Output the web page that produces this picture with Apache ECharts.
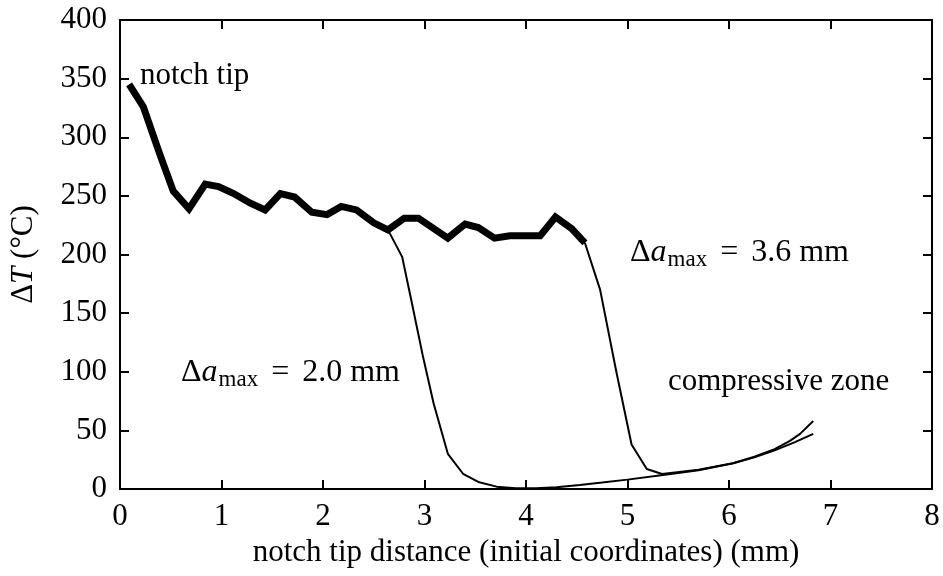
<!DOCTYPE html>
<html>
<head>
<meta charset="utf-8">
<script src="https://cdn.jsdelivr.net/npm/echarts@6/dist/echarts.min.js"></script>
<style>html,body{margin:0;padding:0;background:#fff}#c{width:943px;height:576px}</style>
</head>
<body>
<div id="c"></div>
<script>
// Common path (thick line)
const mainX = [0.09, 0.23, 0.39, 0.525, 0.68, 0.84, 0.97, 1.12, 1.28, 1.43, 1.58, 1.72, 1.89, 2.04, 2.18, 2.33, 2.50, 2.64, 2.80, 2.94, 3.23, 3.40, 3.53, 3.69, 3.84, 4.14, 4.29, 4.45, 4.58];
const mainY = [345, 326, 286, 254, 239, 260, 258, 252, 244, 238, 252, 249, 236, 234, 241, 238, 227, 221, 231, 231, 214, 226, 223, 214, 216, 216, 232, 222, 210];
// Δa_max = 2.0 mm branch
const b20X = [2.64, 2.78, 2.87, 2.98, 3.09, 3.23, 3.38, 3.53, 3.71, 3.90, 4.10, 4.30, 4.53, 4.75, 5.00, 5.35, 5.70, 6.04, 6.25, 6.45, 6.65, 6.83];
const b20Y = [221, 198, 161, 115, 73, 30, 13, 6, 2, 0.6, 0.6, 1.5, 3.4, 5.5, 8, 12, 16, 22, 27, 33, 40, 47];
// Δa_max = 3.6 mm branch
const b36X = [4.58, 4.73, 4.89, 5.04, 5.19, 5.34, 5.70, 6.04, 6.25, 6.45, 6.60, 6.70, 6.83];
const b36Y = [210, 170, 100, 38, 17, 12.8, 16.5, 22, 27.5, 34, 41, 47, 58];
// Axis ticks
const xTicks = [0, 1, 2, 3, 4, 5, 6, 7, 8];
const yTicks = [0, 50, 100, 150, 200, 250, 300, 350, 400];

const pairs = (xs, ys) => xs.map((x, i) => [x, ys[i]]);
const F = 'Liberation Serif';
const chart = echarts.init(document.getElementById('c'));
const axLine = {show: true, onZero: false, lineStyle: {color: '#000', width: 2}};
const tick = {show: true, inside: true, length: 9, lineStyle: {color: '#000', width: 2}};
const lbl = {fontFamily: F, fontSize: 31, color: '#000'};
const xBase = {type: 'value', min: xTicks[0], max: xTicks[xTicks.length - 1], interval: xTicks[1] - xTicks[0], splitLine: {show: false}, axisLine: axLine, axisTick: tick};
const yBase = {type: 'value', min: yTicks[0], max: yTicks[yTicks.length - 1], interval: yTicks[1] - yTicks[0], splitLine: {show: false}, axisLine: axLine, axisTick: tick};
const rich = {
  n: {fontFamily: F, fontSize: 31, color: '#000'},
  i: {fontFamily: F, fontSize: 31, fontStyle: 'italic', color: '#000'},
  s: {fontFamily: F, fontSize: 22, color: '#000', padding: [14, 0, 0, 1]}
};
const richA = {
  n: {fontFamily: F, fontSize: 32, color: '#000'},
  i: {fontFamily: F, fontSize: 32, fontStyle: 'italic', color: '#000'},
  s: {fontFamily: F, fontSize: 23, color: '#000', padding: [14, 0, 0, 1]},
  e: {fontFamily: F, fontSize: 32, color: '#000', padding: [0, 13, 0, 13]}
};
chart.setOption({
  animation: false,
  grid: {left: 120, right: 11, top: 20, bottom: 87},
  xAxis: [
    Object.assign({}, xBase, {position: 'bottom', axisLabel: Object.assign({margin: 12}, lbl),
      name: 'notch tip distance (initial coordinates) (mm)', nameLocation: 'middle', nameGap: 46,
      nameTextStyle: {fontFamily: F, fontSize: 31, color: '#000'}}),
    Object.assign({}, xBase, {position: 'top', axisLabel: {show: false}})
  ],
  yAxis: [
    Object.assign({}, yBase, {position: 'left', axisLabel: Object.assign({margin: 13}, lbl),
      name: '{n|Δ}{i|T}{n| (°C)}', nameLocation: 'middle', nameGap: 81, nameRotate: 90,
      nameTextStyle: {rich: rich}}),
    Object.assign({}, yBase, {position: 'right', axisLabel: {show: false}})
  ],
  series: [
    {type: 'line', data: pairs(b20X, b20Y), symbol: 'none', lineStyle: {color: '#000', width: 2}, z: 2},
    {type: 'line', data: pairs(b36X, b36Y), symbol: 'none', lineStyle: {color: '#000', width: 2}, z: 2},
    {type: 'line', data: pairs(mainX, mainY), symbol: 'none', lineStyle: {color: '#000', width: 7, join: 'miter'}, z: 3}
  ],
  graphic: [
    {type: 'text', left: 140, top: 60, style: {text: 'notch tip', fontFamily: F, fontSize: 31, fill: '#000'}},
    {type: 'text', left: 668, top: 366, style: {text: 'compressive zone', fontFamily: F, fontSize: 31, fill: '#000'}},
    {type: 'text', left: 630, top: 237, style: {text: '{n|Δ}{i|a}{s|max}{e|=}{n|3.6 mm}', rich: richA}},
    {type: 'text', left: 181, top: 357, style: {text: '{n|Δ}{i|a}{s|max}{e|=}{n|2.0 mm}', rich: richA}}
  ]
});
</script>
</body>
</html>
